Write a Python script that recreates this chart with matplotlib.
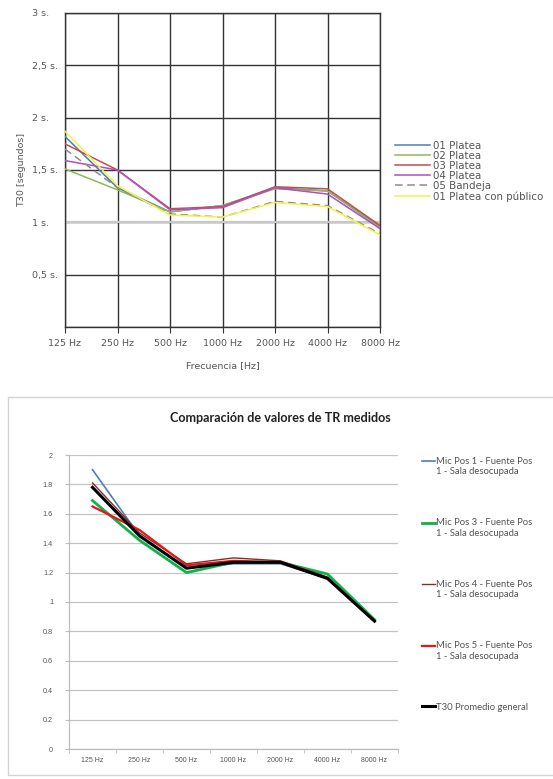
import numpy as np
import matplotlib.pyplot as plt
from matplotlib.patches import Rectangle
from matplotlib.legend_handler import HandlerLine2D

FIG_W, FIG_H = 553, 779

# --- top chart data (T30, seconds) ---
top_freqs = ["125 Hz", "250 Hz", "500 Hz", "1000 Hz", "2000 Hz", "4000 Hz", "8000 Hz"]
top_labels = ["01 Platea", "02 Platea", "03 Platea", "04 Platea", "05 Bandeja", "01 Platea con público"]
platea_01 = [1.82, 1.33, 1.10, 1.16, 1.33, 1.30, 0.96]
platea_02 = [1.51, 1.31, 1.10, 1.16, 1.32, 1.30, 0.95]
platea_03 = [1.75, 1.50, 1.13, 1.15, 1.34, 1.32, 0.97]
platea_04 = [1.59, 1.50, 1.12, 1.14, 1.33, 1.27, 0.94]
bandeja_05 = [1.70, 1.33, 1.08, 1.05, 1.20, 1.16, 0.89]
platea_publico = [1.87, 1.35, 1.07, 1.05, 1.19, 1.15, 0.88]
top_yticks = [0, 0.5, 1, 1.5, 2, 2.5, 3]
top_ylabels = ["", "0,5 s.", "1 s.", "1,5 s.", "2 s.", "2,5 s.", "3 s."]

# --- bottom chart data (TR) ---
bot_freqs = ["125 Hz", "250 Hz", "500 Hz", "1000 Hz", "2000 Hz", "4000 Hz", "8000 Hz"]
bot_labels = [
    "Mic Pos 1 - Fuente Pos\n1 - Sala desocupada",
    "Mic Pos 3 - Fuente Pos\n1 - Sala desocupada",
    "Mic Pos 4 - Fuente Pos\n1 - Sala desocupada",
    "Mic Pos 5 - Fuente Pos\n1 - Sala desocupada",
    "T30 Promedio general",
]
mic_pos_1 = [1.90, 1.45, 1.23, 1.26, 1.26, 1.16, 0.87]
mic_pos_3 = [1.69, 1.42, 1.20, 1.27, 1.27, 1.19, 0.88]
mic_pos_4 = [1.81, 1.47, 1.26, 1.30, 1.28, 1.17, 0.87]
mic_pos_5 = [1.65, 1.49, 1.25, 1.28, 1.27, 1.16, 0.87]
t30_prom = [1.78, 1.45, 1.23, 1.27, 1.27, 1.16, 0.87]
bot_yticks = [0, 0.2, 0.4, 0.6, 0.8, 1, 1.2, 1.4, 1.6, 1.8, 2]
bot_ylabels = ["0", "0.2", "0.4", "0.6", "0.8", "1", "1.2", "1.4", "1.6", "1.8", "2"]


def px_rect(left, top, right, bottom):
    return [left / FIG_W, 1 - bottom / FIG_H, (right - left) / FIG_W, (bottom - top) / FIG_H]


class FirstLineHandler(HandlerLine2D):
    # legend line level with the first text line (Excel style)
    def create_artists(self, legend, orig_handle, xdescent, ydescent,
                       width, height, fontsize, trans):
        artists = super().create_artists(legend, orig_handle, xdescent, ydescent,
                                         width, height, fontsize, trans)
        for a in artists:
            a.set_ydata(np.asarray(a.get_ydata()) + fontsize * 0.6)
        return artists


fig = plt.figure(figsize=(FIG_W / 100, FIG_H / 100), dpi=100)

# ---------------- top chart ----------------
ax1 = fig.add_axes(px_rect(65, 13, 380, 327))
x_top = list(range(len(top_freqs)))
top_series = [platea_01, platea_02, platea_03, platea_04, bandeja_05, platea_publico]
top_colors = ["#4a7fb5", "#8fb85a", "#c0504d", "#b44cc0", "#8c8c8c", "#f2f24a"]
top_styles = ["-", "-", "-", "-", (0, (5, 3)), "-"]
for vals, lab, col, ls in zip(top_series, top_labels, top_colors, top_styles):
    ax1.plot(x_top, vals, color=col, lw=1.1, ls=ls, label=lab, zorder=3)

ax1.set_xlim(0, len(top_freqs) - 1)
ax1.set_ylim(0, 3)
ax1.set_xticks(x_top)
ax1.set_xticklabels(top_freqs)
ax1.set_yticks(top_yticks)
ax1.set_yticklabels(top_ylabels, ha="left")
ax1.grid(True, color="#333333", lw=1.0, zorder=1)
ax1.axhline(1, color="#c8c8c8", lw=1.6, zorder=2)
for s in ax1.spines.values():
    s.set_color("#333333")
    s.set_linewidth(1.0)
ax1.tick_params(axis="x", length=4, direction="out", color="#333333",
                labelsize=6.8, labelcolor="#555555", pad=5)
ax1.tick_params(axis="y", length=0, labelsize=6.8, labelcolor="#555555", pad=24)
ax1.set_xlabel("Frecuencia [Hz]", fontsize=6.8, color="#555555", labelpad=9)
ax1.set_ylabel("T30 [segundos]", fontsize=6.8, color="#555555", labelpad=4)
ax1.legend(loc="upper left", bbox_to_anchor=(395 / FIG_W, 1 - 141 / FIG_H),
           bbox_transform=fig.transFigure, frameon=False, fontsize=7.4,
           labelcolor="#555555", handlelength=3.4, handletextpad=0.3,
           labelspacing=0.0, borderpad=0, borderaxespad=0)

# ---------------- bottom chart ----------------
fig.add_artist(Rectangle((8 / FIG_W, 1 - 775 / FIG_H), 560 / FIG_W, 378 / FIG_H,
                         transform=fig.transFigure, fill=False,
                         edgecolor="#d4d4d4", lw=1.0))
fig.text(280 / FIG_W, 1 - 418 / FIG_H, "Comparación de valores de TR medidos",
         ha="center", va="center", fontsize=9.1, fontweight="bold",
         family="Lato", color="#222222")

ax2 = fig.add_axes(px_rect(69, 455, 398, 749))
x_bot = list(range(len(bot_freqs)))
bot_series = [mic_pos_1, mic_pos_3, mic_pos_4, mic_pos_5, t30_prom]
bot_colors = ["#4f7fb8", "#10b04a", "#8b2a2a", "#e8161b", "#000000"]
bot_widths = [1.2, 2.0, 1.0, 1.6, 2.2]
bot_lines = []
for vals, lab, col, lw in zip(bot_series, bot_labels, bot_colors, bot_widths):
    ln, = ax2.plot(x_bot, vals, color=col, lw=lw, label=lab, zorder=3)
    bot_lines.append(ln)

ax2.set_xlim(-0.5, len(bot_freqs) - 0.5)
ax2.set_ylim(0, 2)
ax2.set_xticks(x_bot)
ax2.set_xticklabels(bot_freqs)
ax2.set_xticks([i - 0.5 for i in range(len(bot_freqs) + 1)], minor=True)
ax2.set_yticks(bot_yticks)
ax2.set_yticklabels(bot_ylabels)
ax2.yaxis.grid(True, color="#c4c4c4", lw=0.9, zorder=1)
for side in ["top", "right"]:
    ax2.spines[side].set_visible(False)
for side in ["left", "bottom"]:
    ax2.spines[side].set_color("#bdbdbd")
    ax2.spines[side].set_linewidth(0.9)
ax2.tick_params(axis="x", which="major", length=0, labelsize=5.0,
                labelcolor="#555555", pad=6, labelfontfamily="Liberation Sans")
ax2.tick_params(axis="x", which="minor", length=3, color="#bdbdbd")
ax2.tick_params(axis="y", length=3, color="#bdbdbd", labelsize=5.2,
                labelcolor="#555555", pad=8.5, labelfontfamily="Liberation Sans")

handler_map = {ln: FirstLineHandler() for ln in bot_lines if "\n" in ln.get_label()}
ax2.legend(handles=bot_lines, handler_map=handler_map,
           loc="upper left", bbox_to_anchor=(422 / FIG_W, 1 - 457 / FIG_H),
           bbox_transform=fig.transFigure, frameon=False,
           prop={"family": "Lato", "size": 6.8}, labelcolor="#555555",
           handlelength=1.4, handletextpad=0.1, labelspacing=4.45,
           borderpad=0, borderaxespad=0)

fig.savefig("out.png", dpi=100)
